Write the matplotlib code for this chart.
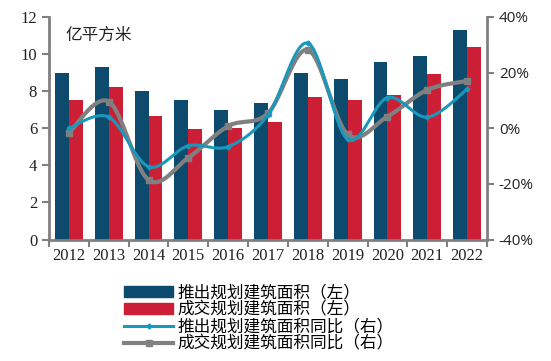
import numpy as np
import matplotlib.pyplot as plt
import matplotlib.patches as mpatches
from matplotlib.lines import Line2D

years = ['2012', '2013', '2014', '2015', '2016', '2017', '2018', '2019', '2020', '2021', '2022']
# 亿平方米
launched = [9.0, 9.3, 8.0, 7.5, 7.0, 7.35, 9.0, 8.65, 9.6, 9.9, 11.3]
sold = [7.55, 8.25, 6.65, 5.95, 6.0, 6.35, 7.7, 7.55, 7.8, 8.9, 10.4]
# yoy, %
launched_yoy = [0.0, 4.0, -13.8, -6.3, -6.6, 4.8, 30.6, -4.0, 11.0, 4.0, 14.0]
sold_yoy = [-1.6, 9.6, -18.6, -10.6, 0.8, 5.4, 28.2, -2.2, 4.2, 13.8, 17.0]

NAVY = '#0c4a6e'
RED = '#cc1f35'
TEAL = '#1a98bb'
GRAY = '#808080'
CJK = ['Noto Sans CJK SC', 'DejaVu Sans']


def smooth(xs, ys, n=30):
    # excel style smoothed line (catmull-rom bezier through the points)
    xs = np.asarray(xs, float)
    ys = np.asarray(ys, float)
    px = np.concatenate([[xs[0]], xs, [xs[-1]]])
    py = np.concatenate([[ys[0]], ys, [ys[-1]]])
    out_x, out_y = [], []
    t = np.linspace(0, 1, n)
    for i in range(1, len(px) - 2):
        p0x, p1x, p2x, p3x = px[i - 1], px[i], px[i + 1], px[i + 2]
        p0y, p1y, p2y, p3y = py[i - 1], py[i], py[i + 1], py[i + 2]
        c1x = p1x + (p2x - p0x) / 6
        c1y = p1y + (p2y - p0y) / 6
        c2x = p2x - (p3x - p1x) / 6
        c2y = p2y - (p3y - p1y) / 6
        bx = (1 - t) ** 3 * p1x + 3 * (1 - t) ** 2 * t * c1x + 3 * (1 - t) * t ** 2 * c2x + t ** 3 * p2x
        by = (1 - t) ** 3 * p1y + 3 * (1 - t) ** 2 * t * c1y + 3 * (1 - t) * t ** 2 * c2y + t ** 3 * p2y
        out_x.extend(bx)
        out_y.extend(by)
    return out_x, out_y


fig = plt.figure(figsize=(5.51, 3.61), dpi=100)
ax = fig.add_axes([49 / 551, 1 - 239.5 / 361, (487 - 49) / 551, (239.5 - 17) / 361])
ax2 = ax.twinx()

x = np.arange(len(years))
w = 0.35
ax.bar(x - w / 2, launched, w, color=NAVY, zorder=2)
ax.bar(x + w / 2, sold, w, color=RED, zorder=2)

ax.set_ylim(0, 12)
ax.set_yticks(range(0, 13, 2))
ax.set_xlim(-0.5, len(years) - 0.5)
ax.set_xticks(x)
ax.set_xticklabels(years)
ax.set_xticks(np.arange(-0.5, len(years), 1), minor=True)
ax.tick_params(axis='x', which='major', length=0, pad=6)
ax.tick_params(axis='x', which='minor', length=5, width=1.5, color=GRAY, direction='out')
ax.tick_params(axis='y', length=5, width=1.5, color=GRAY, direction='out')

sx, sy = smooth(x, sold_yoy)
ax2.plot(sx, sy, color=GRAY, lw=3, zorder=3)
ax2.plot(x, sold_yoy, 's', color=GRAY, ms=5, zorder=3)
lx, ly = smooth(x, launched_yoy)
ax2.plot(lx, ly, color=TEAL, lw=2.2, zorder=4)
ax2.plot(x, launched_yoy, 'D', color=TEAL, ms=2.5, zorder=4)
ax2.set_ylim(-40, 40)
ax2.set_yticks(range(-40, 41, 20))
ax2.yaxis.set_major_formatter(plt.FuncFormatter('{:.0f}%'.format))
ax2.tick_params(axis='y', length=5, width=1.5, color=GRAY, direction='out')

for a in (ax, ax2):
    a.spines['top'].set_visible(False)
    for s in ('left', 'right', 'bottom'):
        a.spines[s].set_color(GRAY)
        a.spines[s].set_linewidth(2)
ax2.spines['left'].set_visible(False)
ax.spines['right'].set_visible(False)
ax2.spines['bottom'].set_visible(False)

for lab in ax.get_xticklabels() + ax.get_yticklabels():
    lab.set_fontfamily('Liberation Serif')
    lab.set_fontsize(12)
    lab.set_color('#222222')
for lab in ax2.get_yticklabels():
    lab.set_fontfamily('Open Sans')
    lab.set_fontsize(11)
    lab.set_color('#222222')

ax.text(0.037, 0.955, '亿平方米', transform=ax.transAxes, family=CJK, fontsize=12,
        va='top', ha='left', color='#222222')

handles = [
    mpatches.Patch(color=NAVY, label='推出规划建筑面积（左）'),
    mpatches.Patch(color=RED, label='成交规划建筑面积（左）'),
    Line2D([], [], color=TEAL, lw=2.2, marker='D', ms=2.5, label='推出规划建筑面积同比（右）'),
    Line2D([], [], color=GRAY, lw=3, marker='s', ms=5, label='成交规划建筑面积同比（右）'),
]
leg = fig.legend(handles=handles, loc='upper left', bbox_to_anchor=(116 / 551, 1 - 276 / 361),
                 frameon=False, prop={'family': CJK, 'size': 12}, handlelength=2.9,
                 handleheight=0.6, labelspacing=0.0, handletextpad=0.3, borderpad=0)

fig.savefig('out.png', dpi=100)
